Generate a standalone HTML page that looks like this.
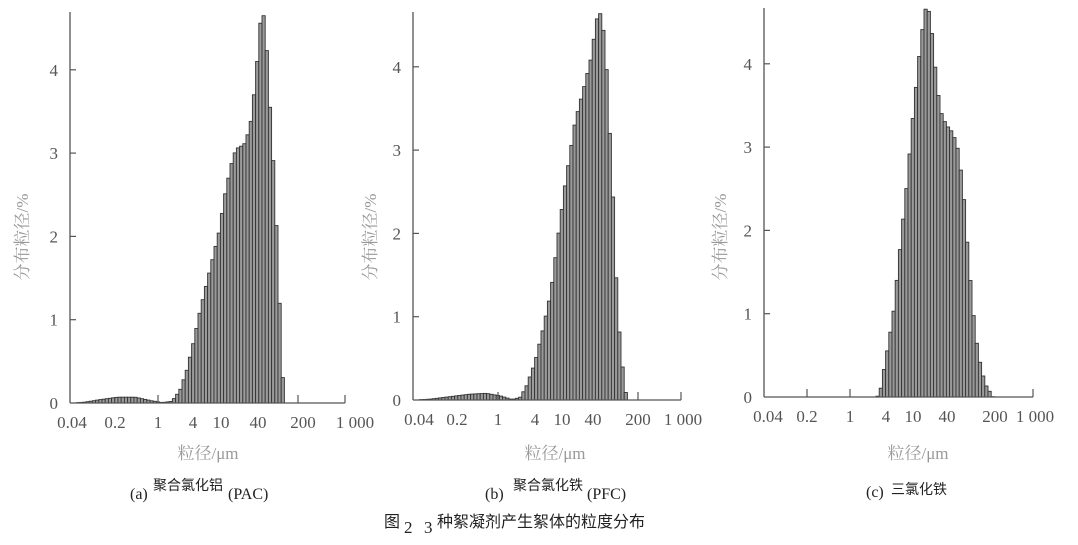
<!DOCTYPE html>
<html><head><meta charset="utf-8"><style>
html,body{margin:0;padding:0;background:#fff;}
svg{display:block;}
.t{font-family:"Liberation Serif","Noto Serif CJK SC",serif;fill:#555;font-size:17px;}
.g{font-family:"Liberation Serif","Noto Serif CJK SC",serif;fill:#999;font-size:17px;}
.c{font-family:"Liberation Sans","Noto Sans CJK SC",sans-serif;fill:#222;font-size:15px;}
</style></head><body>
<svg id="s" width="1078" height="545" xmlns="http://www.w3.org/2000/svg"></svg>
<script>
const s=document.getElementById('s');let h='';
const U=83.3;
const charts=[
 {ax:70,y0:403,top:12,end:345,ticks:[158,298,345],
  labs:[[72,'0.04'],[115,'0.2'],[158,'1'],[193,'4'],[221,'10'],[258,'40'],[303,'200'],[355,'1 000']],
  pts:[[72,0],[85,0.01],[100,0.04],[118,0.07],[135,0.07],[150,0.03],[162,0.005],[172,0.02],[180,0.15],[187,0.4],[193,0.7],[200,1.1],[210,1.6],[219,2.05],[225,2.5],[231,2.85],[236,3.05],[244,3.1],[250,3.3],[254,3.7],[258,4.2],[261,4.65],[265,4.65],[268,3.95],[271,3.35],[275,2.55],[278,1.65],[281,0.8],[283,0.25],[285,0],[345,0]],
  ylab:22,xl:208},
 {ax:413,y0:400,top:12,end:681,ticks:[498,638,681],
  labs:[[419,'0.04'],[457,'0.2'],[498,'1'],[535,'4'],[562,'10'],[593,'40'],[638,'200'],[683,'1 000']],
  pts:[[413,0],[430,0.01],[450,0.04],[470,0.07],[486,0.08],[500,0.05],[512,0.005],[520,0.03],[526,0.15],[535,0.45],[543,0.85],[551,1.3],[558,1.95],[565,2.57],[575,3.33],[585,3.8],[592,4.15],[596,4.55],[600,4.65],[604,4.4],[607,3.9],[610,3.15],[614,2.2],[617,1.2],[621,0.56],[625,0.15],[627,0],[681,0]],
  ylab:370,xl:555},
 {ax:764,y0:397,top:8,end:1033,ticks:[807,850,1033],
  labs:[[768,'0.04'],[807,'0.2'],[850,'1'],[886,'4'],[913,'10'],[947,'40'],[995,'200'],[1035,'1 000']],
  pts:[[764,0],[877,0],[880,0.05],[885,0.4],[893,0.96],[900,1.77],[907,2.57],[913,3.37],[920,4.18],[925,4.66],[930,4.62],[935,3.98],[940,3.45],[946,3.27],[953,3.17],[958,2.97],[963,2.53],[968,1.73],[973,1.04],[978,0.52],[985,0.16],[993,0],[1033,0]],
  ylab:720,xl:918}
];
function interp(p,x){for(let i=1;i<p.length;i++){if(x<=p[i][0]){const a=p[i-1],b=p[i];return a[1]+(b[1]-a[1])*(x-a[0])/(b[0]-a[0]||1);}}return 0;}
for(const c of charts){
  const w=3.2;
  for(let x=c.ax;x<c.end-w;x+=w){
    const v=interp(c.pts,x+w/2); if(v<=0.003)continue;
    const hh=v*U;
    h+=`<rect x="${x.toFixed(1)}" y="${(c.y0-hh).toFixed(1)}" width="${w}" height="${hh.toFixed(1)}" fill="#9a9a9a" stroke="#333" stroke-width="0.9"/>`;
  }
  h+=`<line x1="${c.ax}" y1="${c.top}" x2="${c.ax}" y2="${c.y0}" stroke="#555" stroke-width="1.3"/>`;
  h+=`<line x1="${c.ax}" y1="${c.y0}" x2="${c.end}" y2="${c.y0}" stroke="#555" stroke-width="1.3"/>`;
  for(const t of c.ticks)h+=`<line x1="${t}" y1="${c.y0}" x2="${t}" y2="${c.y0-8}" stroke="#555" stroke-width="1.2"/>`;
  for(let k=0;k<=4;k++){const y=c.y0-k*U;
    if(k>0)h+=`<line x1="${c.ax}" y1="${y}" x2="${c.ax+6}" y2="${y}" stroke="#555" stroke-width="1.2"/>`;
    h+=`<text class="t" x="${c.ax-12}" y="${y+6}" text-anchor="end">${k}</text>`;}
  for(const [x,l] of c.labs)h+=`<text class="t" x="${x}" y="${c.y0+25}" text-anchor="middle">${l}</text>`;
  h+=`<text class="g" transform="translate(${c.ylab+6},237) rotate(-90)" text-anchor="middle">分布粒径/%</text>`;
  h+=`<text class="g" x="${c.xl}" y="459" text-anchor="middle">粒径/μm</text>`;
}
h+=`<text x="130" y="499" class="t" style="fill:#222;font-size:16px">(a)</text><text x="153" y="490" class="c" style="font-size:14px">聚合氯化铝</text><text x="228" y="499" class="t" style="fill:#222;font-size:16px">(PAC)</text>`;
h+=`<text x="485" y="499" class="t" style="fill:#222;font-size:16px">(b)</text><text x="513" y="490" class="c" style="font-size:14px">聚合氯化铁</text><text x="587" y="499" class="t" style="fill:#222;font-size:16px">(PFC)</text>`;
h+=`<text x="866" y="497" class="t" style="fill:#222;font-size:16px">(c)</text><text x="891" y="494" class="c" style="font-size:14px">三氯化铁</text>`;
h+=`<text x="384" y="527" class="c" style="font-size:16px">图</text><text x="404" y="533" class="t" style="fill:#222;font-size:17px">2</text><text x="424" y="533" class="t" style="fill:#222;font-size:17px">3</text><text x="437" y="527" class="c" style="font-size:16px">种絮凝剂产生絮体的粒度分布</text>`;
s.innerHTML=h;
</script>
</body></html>
